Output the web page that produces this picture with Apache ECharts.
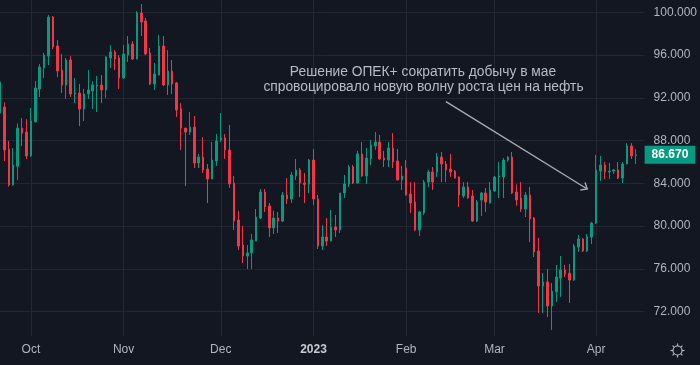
<!DOCTYPE html>
<html><head><meta charset="utf-8">
<script src="https://cdn.jsdelivr.net/npm/echarts@6/dist/echarts.min.js"></script>
<style>html,body{margin:0;padding:0;background:#131722;}#c{width:700px;height:365px;}</style>
</head><body><div id="c"></div>
<script>
const dates = [
'2022-09-22','2022-09-23','2022-09-26','2022-09-27','2022-09-28','2022-09-29','2022-09-30',
'2022-10-03','2022-10-04','2022-10-05','2022-10-06','2022-10-07','2022-10-10','2022-10-11','2022-10-12','2022-10-13','2022-10-14','2022-10-17','2022-10-18','2022-10-19','2022-10-20','2022-10-21','2022-10-24','2022-10-25','2022-10-26','2022-10-27','2022-10-28','2022-10-31',
'2022-11-01','2022-11-02','2022-11-03','2022-11-04','2022-11-07','2022-11-08','2022-11-09','2022-11-10','2022-11-11','2022-11-14','2022-11-15','2022-11-16','2022-11-17','2022-11-18','2022-11-21','2022-11-22','2022-11-23','2022-11-24','2022-11-25','2022-11-28','2022-11-29','2022-11-30',
'2022-12-01','2022-12-02','2022-12-05','2022-12-06','2022-12-07','2022-12-08','2022-12-09','2022-12-12','2022-12-13','2022-12-14','2022-12-15','2022-12-16','2022-12-19','2022-12-20','2022-12-21','2022-12-22','2022-12-23','2022-12-27','2022-12-28','2022-12-29','2022-12-30',
'2023-01-03','2023-01-04','2023-01-05','2023-01-06','2023-01-09','2023-01-10','2023-01-11','2023-01-12','2023-01-13','2023-01-16','2023-01-17','2023-01-18','2023-01-19','2023-01-20','2023-01-23','2023-01-24','2023-01-25','2023-01-26','2023-01-27','2023-01-30','2023-01-31',
'2023-02-01','2023-02-02','2023-02-03','2023-02-06','2023-02-07','2023-02-08','2023-02-09','2023-02-10','2023-02-13','2023-02-14','2023-02-15','2023-02-16','2023-02-17','2023-02-20','2023-02-21','2023-02-22','2023-02-23','2023-02-24','2023-02-27','2023-02-28',
'2023-03-01','2023-03-02','2023-03-03','2023-03-06','2023-03-07','2023-03-08','2023-03-09','2023-03-10','2023-03-13','2023-03-14','2023-03-15','2023-03-16','2023-03-17','2023-03-20','2023-03-21','2023-03-22','2023-03-23','2023-03-24','2023-03-27','2023-03-28','2023-03-29','2023-03-30','2023-03-31',
'2023-04-03','2023-04-04','2023-04-05','2023-04-06','2023-04-07','2023-04-10','2023-04-11','2023-04-12','2023-04-13','2023-04-14'
];
const opens = [
90.57,91.14,87.20,83.85,85.60,89.17,88.80,
86.56,89.75,92.83,94.79,95.90,99.56,96.85,94.60,93.20,95.54,92.36,92.45,90.95,92.36,92.64,93.10,93.20,92.73,95.73,96.29,95.73,
93.86,96.00,97.03,95.63,99.93,99.19,96.19,93.29,94.13,96.85,93.20,94.51,93.39,90.95,89.17,88.80,89.26,85.90,86.46,85.34,84.40,86.09,
88.05,88.24,87.12,84.03,80.57,78.23,77.20,77.49,78.60,80.76,83.19,81.89,79.83,80.76,80.47,82.91,82.54,84.69,85.25,84.03,83.94,
86.18,82.54,78.14,78.98,78.60,79.92,79.64,83.10,83.94,85.53,84.03,86.75,84.69,86.28,87.49,87.87,86.37,86.18,87.30,86.09,84.31,
85.43,83.00,82.25,79.64,81.23,84.12,85.06,85.06,86.46,85.81,85.34,85.15,84.59,82.82,83.66,82.82,80.47,82.44,83.10,82.16,
83.28,84.60,84.59,86.18,86.46,83.19,82.63,81.60,82.91,80.76,77.67,74.40,74.78,72.53,73.84,75.15,75.90,75.60,74.96,78.04,78.79,77.67,78.98,
80.29,85.15,85.72,85.06,85.15,85.25,84.50,85.81,87.49,86.60
];
const highs = [
93.70,91.58,87.96,87.30,89.60,90.10,90.00,
91.05,93.57,95.17,96.20,99.75,99.65,97.40,96.10,95.73,95.90,93.85,93.30,92.83,94.60,93.57,94.04,94.13,95.90,96.94,96.47,96.00,
96.94,97.78,97.31,100.12,100.78,99.47,96.66,95.26,97.88,97.78,96.47,95.54,93.48,91.50,89.17,90.67,90.30,86.75,88.33,85.80,87.87,88.61,
90.58,88.61,89.46,84.69,81.42,79.99,78.23,79.26,81.60,83.47,83.47,82.16,81.42,81.33,83.19,84.50,85.06,86.28,85.43,84.97,86.28,
87.21,82.91,80.10,80.76,81.51,81.05,83.10,84.78,85.72,85.72,87.03,87.87,87.30,88.05,88.80,88.52,87.03,87.87,88.70,87.21,85.62,
86.18,84.12,84.12,81.42,84.31,85.25,85.53,86.84,86.94,86.09,86.75,85.25,84.65,84.12,84.12,83.38,82.44,83.19,83.57,84.12,
84.69,86.00,86.37,86.56,86.94,83.90,84.12,83.19,83.66,80.85,78.89,75.62,75.99,74.68,76.36,77.20,76.36,76.46,78.33,79.17,78.89,79.26,80.38,
86.65,86.56,86.00,85.90,85.34,86.00,86.00,87.77,87.77,87.20
];
const lows = [
90.40,86.09,83.70,83.80,84.30,87.50,86.28,
86.50,89.70,92.08,93.86,95.07,96.56,93.95,92.45,91.90,92.08,91.50,89.36,89.83,91.90,90.95,90.67,91.50,91.99,94.80,94.60,92.83,
93.76,95.35,95.54,95.60,97.78,96.00,93.20,92.73,94.10,93.10,92.26,92.36,90.20,87.12,83.75,88.52,85.43,85.43,84.97,82.16,84.40,85.62,
87.87,86.28,83.57,79.64,77.77,76.55,75.99,75.99,78.60,80.66,81.33,78.98,79.26,79.36,80.38,82.07,82.16,84.31,82.72,82.16,83.10,
81.98,77.86,77.77,78.14,78.60,78.98,79.36,82.63,83.66,83.94,84.00,84.60,83.94,85.72,87.12,86.18,85.53,85.53,85.43,84.31,83.38,
82.85,81.23,79.55,79.08,81.05,83.66,83.38,84.60,84.12,84.12,84.60,84.45,81.79,82.63,82.55,80.40,80.38,80.94,81.33,82.10,
83.20,82.63,82.63,86.00,83.00,81.90,81.33,80.85,78.51,77.11,71.88,71.88,71.50,70.29,72.90,73.38,75.24,72.81,74.87,77.58,77.58,77.58,78.33,
80.20,84.22,84.40,84.40,84.87,84.40,84.03,85.81,86.28,85.80
];
const closes = [
93.48,87.12,83.85,85.72,89.17,88.70,86.56,
89.84,92.92,94.88,96.00,99.56,96.75,94.51,93.20,95.54,92.36,92.45,90.95,92.36,92.73,93.20,93.20,92.73,95.82,96.29,95.63,93.86,
96.10,97.03,95.63,99.93,99.09,96.10,93.29,94.23,96.85,93.20,94.51,93.29,90.86,89.17,88.80,89.26,85.90,86.46,85.25,84.40,86.18,87.96,
88.24,87.12,83.94,80.47,78.14,77.20,77.49,78.70,80.85,83.19,81.79,79.83,80.76,80.47,82.91,82.54,84.78,85.25,84.03,83.90,86.18,
82.54,78.14,78.98,78.60,79.92,79.64,83.10,83.94,85.53,84.03,86.75,84.69,86.37,87.58,87.87,86.28,86.18,87.30,86.00,84.31,84.69,
82.91,82.16,79.64,81.33,84.12,85.06,84.12,86.46,85.81,85.25,85.06,84.50,82.91,83.66,82.63,80.47,82.25,83.10,82.25,83.38,
84.59,84.69,86.18,86.46,83.10,82.44,81.60,82.91,80.66,77.58,74.40,74.78,72.53,73.93,75.24,75.90,75.52,74.96,78.14,78.79,77.67,78.98,80.29,
85.25,85.72,85.06,85.15,85.25,84.50,85.81,87.49,86.56,86.67
];
const monthLabels = {'2022-10-03':'Oct','2022-11-01':'Nov','2022-12-01':'Dec','2023-01-03':'2023','2023-02-01':'Feb','2023-03-01':'Mar','2023-04-03':'Apr'};
const priceTicks = [72,76,80,84,88,92,96,100];
const annotationLines = ['Решение ОПЕК+ сократить добычу в мае','спровоцировало новую волну роста цен на нефть'];
const arrowFrom = ['2023-02-14', 91.64];
const arrowTo = ['2023-03-30', 83.47];

const UP = '#089981', DOWN = '#F23645';
const FONT = '"Liberation Sans", Arial, sans-serif';
const xData = dates.concat([' ', '  ']);
const chart = echarts.init(document.getElementById('c'), null, {renderer:'canvas'});
const lastClose = closes[closes.length - 1];

const option = {
  backgroundColor: '#131722',
  animation: false,
  grid: {left: 0, right: 54.15, top: 0, bottom: 29, containLabel: false},
  xAxis: {
    type: 'category', data: xData, boundaryGap: false,
    axisLine: {show: false}, axisTick: {show: false},
    axisLabel: {
      interval: (i, v) => monthLabels[v] !== undefined,
      formatter: v => v === '2023-01-03' ? '{y|' + monthLabels[v] + '}' : (monthLabels[v] || ''),
      color: '#b2b5be', fontSize: 12, fontFamily: FONT, margin: 8,
      rich: {y: {fontWeight: 'bold', color: '#c8cbd2', fontSize: 12, fontFamily: FONT}}
    },
    splitLine: {show: true, interval: (i, v) => monthLabels[v] !== undefined, lineStyle: {color: '#232733', width: 1}}
  },
  yAxis: {
    type: 'value', position: 'right', min: 69.72, max: 101.15,
    axisLine: {show: false},
    axisTick: {show: false, customValues: priceTicks},
    axisLabel: {customValues: priceTicks, formatter: v => v.toFixed(3), color: '#b2b5be', fontSize: 12, fontFamily: FONT, margin: 9},
    splitLine: {lineStyle: {color: '#232733', width: 1}}
  },
  series: [{
    type: 'candlestick',
    data: dates.map((d, i) => [opens[i], closes[i], lows[i], highs[i]]),
    barWidth: 2,
    itemStyle: {color: UP, color0: DOWN, borderColor: UP, borderColor0: DOWN, borderWidth: 1},
    markLine: {
      silent: true, symbol: ['none', 'none'], animation: false,
      lineStyle: {color: 'rgba(0,0,0,0)', width: 1, type: 'solid'},
      label: {
        show: true, position: 'end', distance: 0,
        formatter: p => Number(p.value).toFixed(3),
        backgroundColor: UP, color: '#ffffff', fontSize: 12, fontWeight: 'bold', fontFamily: FONT,
        padding: [3, 7, 3, 7], lineHeight: 12
      },
      emphasis: {disabled: true},
      data: [{yAxis: lastClose}]
    }
  }]
};
chart.setOption(option);

const p1 = chart.convertToPixel({gridIndex: 0}, arrowFrom);
const p2 = chart.convertToPixel({gridIndex: 0}, arrowTo);
const ang = Math.atan2(p2[1] - p1[1], p2[0] - p1[0]);
const L = 7, spread = 40 * Math.PI / 180;
const b1 = [p2[0] - L * Math.cos(ang - spread), p2[1] - L * Math.sin(ang - spread)];
const b2 = [p2[0] - L * Math.cos(ang + spread), p2[1] - L * Math.sin(ang + spread)];
const arrowColor = '#a8abb3';
const gear = [];
for (let k = 0; k < 8; k++) {
  const a = k * Math.PI / 4;
  gear.push({type: 'line', shape: {x1: 677.5 + 4.5 * Math.cos(a), y1: 350.5 + 4.5 * Math.sin(a), x2: 677.5 + 7 * Math.cos(a), y2: 350.5 + 7 * Math.sin(a)}, style: {stroke: '#b2b5be', lineWidth: 1.2}});
}
chart.setOption({
  graphic: [
    {type: 'text', x: 423, y: 72, style: {text: annotationLines[0], fill: '#b8bbc3', font: '13.8px ' + FONT, textAlign: 'center', textVerticalAlign: 'middle'}},
    {type: 'text', x: 423.5, y: 87.5, style: {text: annotationLines[1], fill: '#b8bbc3', font: '13.8px ' + FONT, textAlign: 'center', textVerticalAlign: 'middle'}},
    {type: 'line', shape: {x1: p1[0], y1: p1[1], x2: p2[0], y2: p2[1]}, style: {stroke: arrowColor, lineWidth: 1.4}},
    {type: 'polyline', shape: {points: [b1, p2, b2]}, style: {stroke: arrowColor, lineWidth: 1.4, fill: null}},
    {type: 'circle', shape: {cx: 677.5, cy: 350.5, r: 4.5}, style: {stroke: '#b2b5be', lineWidth: 1.2, fill: null}}
  ].concat(gear)
});
</script>
</body></html>
